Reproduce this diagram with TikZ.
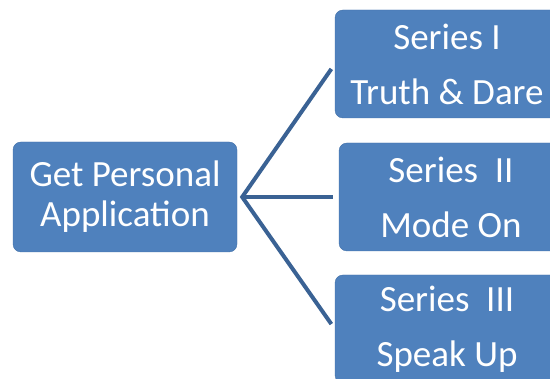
\documentclass[tikz,border=0pt]{standalone}
\usepackage{fontspec}
\setmainfont{Carlito}
\usetikzlibrary{positioning}
\definecolor{boxblue}{RGB}{79,129,189}
\definecolor{boxedge}{RGB}{66,112,168}
\definecolor{linkblue}{RGB}{58,98,148}

\begin{document}
\begin{tikzpicture}[x=1pt, y=-1pt,
    box/.style={rectangle, rounded corners=8pt, draw=boxedge, fill=boxblue, text=white, minimum width=224pt, inner sep=0pt, align=center},
    mainbox/.style={box, minimum height=110pt, font=\fontsize{37}{40}\selectfont},
    seriesbox/.style={box, minimum height=108pt, font=\fontsize{37}{55}\selectfont},
    link/.style={draw=linkblue, line width=4pt, line join=miter}
    ]
    \useasboundingbox (0,0) rectangle (550,379);
    % Nodes
    \node[mainbox] (GP) at (125,197) {Get Personal\\Application};
    \node[seriesbox] (S1) at (447,64) {Series I\\Truth \& Dare};
    \node[seriesbox] (S2) at (451,197) {Series\ \ II\\Mode On};
    \node[seriesbox] (S3) at (447,329) {Series\ \ III\\Speak Up};
    \coordinate (hub) at ([xshift=5pt]GP.east);
    % Edges
    \path[link, shorten <=6pt, shorten >=6pt] (S1.west) -- (hub) -- (S3.west);
    \path[link, shorten >=6pt] (hub) -- (S2.west);
\end{tikzpicture}
\end{document}
